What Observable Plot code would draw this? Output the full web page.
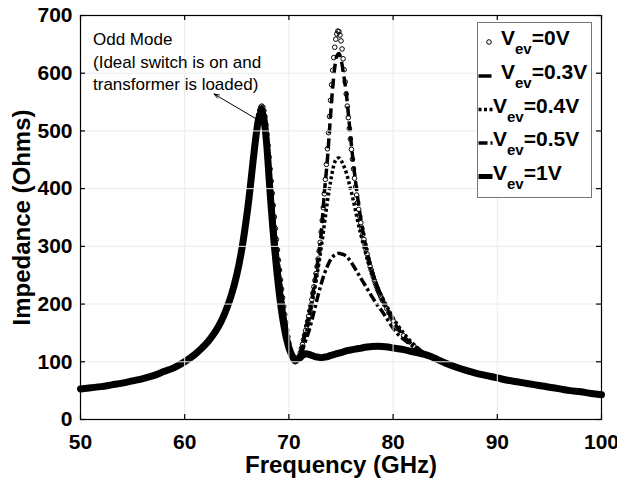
<!DOCTYPE html>
<html><head><meta charset="utf-8">
<script src="https://cdn.jsdelivr.net/npm/d3@7"></script>
<script src="https://cdn.jsdelivr.net/npm/@observablehq/plot@0.6"></script>
<style>
html,body{margin:0;padding:0;background:#fff;}
#chart{width:617px;height:486px;}
</style></head><body><div id="chart"></div>
<script>
// ---------- DATA ----------
const xTicks = [50, 60, 70, 80, 90, 100];
const yTicks = [0, 100, 200, 300, 400, 500, 600, 700];
const seriesNames = ["0V", "0.3V", "0.4V", "0.5V", "1V"];

// part shared by every curve (left tail, 50 -> 66.6 GHz)
const freqLeft = [50,51,52,53,54,55,56,57,58,59,60,61,62,62.5,63,63.5,64,64.5,65,65.5,66,66.3,66.6];
const zLeft    = [53,55,57,60,63,67,71,76,83,90,100,113,130,141,154,170,191,217,251,297,359,404,454];

// part shared by every curve (right tail, 84 -> 100 GHz)
const freqRight = [84,85,86,87,88,89,90,91,92,93,94,95,96,97,98,99,100];
const zRight    = [106,98,91,85,80,76,72,68,65,62,59,56,53,50,48,45,43];

// Vev = 0V (circles), resonance region
const freqMid0 = [66.8,66.9,67.0,67.1,67.2,67.3,67.4,67.5,67.6,67.7,67.8,67.9,68.0,68.1,68.2,68.3,68.4,68.5,68.6,68.7,68.8,68.9,69.0,69.1,69.2,69.3,69.4,69.5,69.6,69.7,69.8,69.9,70.0,
  70.1,70.2,70.3,70.4,70.5,70.6,70.7,70.8,70.9,71.0,
  71.1,71.2,71.3,71.4,71.5,71.6,71.7,71.8,71.9,72.0,
  72.1,72.2,72.3,72.4,72.5,72.6,72.7,72.8,72.9,73.0,
  73.1,73.2,73.3,73.4,73.5,73.6,73.7,73.8,73.9,74.0,
  74.1,74.2,74.3,74.4,74.5,74.6,74.7,74.8,74.9,75.0,
  75.1,75.2,75.3,75.4,75.5,75.6,75.7,75.8,75.9,76.0,
  76.1,76.2,76.3,76.4,76.5,76.6,76.7,76.8,76.9,77.0,
  77.1,77.2,77.3,77.4,77.5,77.6,77.7,77.8,77.9,78.0,
  78.1,78.2,78.3,78.4,78.5,78.6,78.7,78.8,78.9,79.0,
  79.2,79.4,79.6,79.8,80.0,80.5,81.0,81.5,82.0,82.5,83.0,83.5];
const zMid0 = [488,503,517,528,536,541,543,541,535,525,511,494,475,455,434,413,392,371,351,331,312,294,276,259,242,226,211,196,182,168,155,143,132,
  122,114,108,104,101,100,101,103,106,110,
  116,123,130,138,146,154,162,170,179,188,
  198,208,219,230,241,253,265,278,292,307,
  325,345,367,391,416,442,469,497,525,553,
  580,605,627,645,659,668,673,672,666,656,
  642,625,606,585,564,543,523,504,486,468,
  451,434,418,403,389,376,364,352,341,331,
  321,312,303,295,287,279,272,265,259,253,
  247,241,236,231,226,222,218,214,210,206,
  199,192,185,178,171,157,145,135,127,120,114,110];

// line series, resonance region (shared frequency grid)
const freqMid = [66.9,67.1,67.3,67.5,67.7,67.9,68.1,68.3,68.6,68.9,69.2,69.5,69.8,70.1,70.4,70.7,
  71.0,71.3,71.6,71.9,72.2,72.5,72.8,73.1,73.4,73.7,74.0,74.2,74.4,74.6,74.8,75.0,75.2,75.5,75.8,
  76.1,76.4,76.7,77.0,77.5,78.0,78.5,79.0,79.5,80.0,80.5,81.0,81.5,82.0,82.5,83.0,83.5];
const zMid03 = [502,527,539,539,521,488,445,400,338,284,234,190,152,123,106,102,
  110,130,154,179,208,241,278,323,392,452,528,575,610,630,634,624,604,566,512,
  458,412,371,336,290,255,228,207,188,171,157,145,135,127,120,114,110];
const zMid04 = [502,527,539,539,521,488,445,400,338,284,234,190,152,123,106,102,
  108,124,144,170,200,230,262,298,338,378,412,432,446,452,453,449,442,428,408,
  386,361,336,313,280,252,230,210,192,176,162,150,139,130,122,115,110];
const zMid05 = [502,527,539,539,521,488,445,400,338,284,234,190,152,123,106,102,
  108,120,136,152,172,193,215,235,252,266,277,282,285,287,288,287,286,283,277,
  269,260,251,242,227,212,198,186,172,158,147,139,132,126,120,114,110];
const zMid1 = [499,521,531,528,507,470,418,368,302,247,201,165,138,119,108,104,
  106,111,114,113,111,109,108,107,108,109,111,112,113,114,115,116,117,119,120,
  121,122,123,124,125.5,126.5,127,126.5,125.5,124,122.5,121,119,117,115,113,110];

// annotation
const annoText = ["Odd Mode\n(Ideal switch is on and\ntransformer is loaded)"];
const annoX = [51.2];
const annoY = [676];
const arrowFrom = [66.85, 521];
const arrowTo = [62.82, 564];

const xLabel = "Frequency (GHz)";
const yLabel = "Impedance (Ohms)";
const legendSub = "ev";

// ---------- build tables ----------
function build(name, fMid, zMid) {
  const f = [...freqLeft, ...fMid, ...freqRight];
  const z = [...zLeft, ...zMid, ...zRight];
  return f.map((x, i) => ({series: name, f: x, z: z[i]}));
}
const d0  = build(seriesNames[0], freqMid0, zMid0);
const d03 = build(seriesNames[1], freqMid, zMid03);
const d04 = build(seriesNames[2], freqMid, zMid04);
const d05 = build(seriesNames[3], freqMid, zMid05);
const d1  = build(seriesNames[4], freqMid, zMid1);

// ---------- layout ----------
const W = 617, H = 486, mL = 80, mR = 16, mT = 15, mB = 67;
const plotW = W - mL - mR, plotH = H - mT - mB;
const FONT = "'Liberation Sans', Arial, Helvetica, sans-serif";
const styles = {
  "0.3V": {w: 3.5, dash: "10,5"},
  "0.4V": {w: 3.5, dash: "3,2.5"},
  "0.5V": {w: 3.5, dash: "9,3,3,3"},
  "1V":   {w: 7,   dash: null}
};

const lineMark = (data, name) => Plot.line(data, {
  x: "f", y: "z", stroke: "black", strokeWidth: styles[name].w,
  strokeDasharray: styles[name].dash || undefined,
  strokeLinecap: styles[name].dash ? "butt" : "round",
  strokeLinejoin: "round", curve: "catmull-rom"
});

const svg = Plot.plot({
  width: W, height: H,
  marginLeft: mL, marginRight: mR, marginTop: mT, marginBottom: mB,
  x: {domain: [50, 100], ticks: xTicks},
  y: {domain: [0, 700], ticks: yTicks},
  style: {fontFamily: FONT, background: "white", color: "black"},
  marks: [
    Plot.dot(d0, {x: "f", y: "z", r: 2.3, stroke: "black", strokeWidth: 1, fill: "none"}),
    lineMark(d03, "0.3V"),
    lineMark(d04, "0.4V"),
    lineMark(d05, "0.5V"),
    lineMark(d1, "1V"),
    Plot.gridX(xTicks, {stroke: "#ebebeb", strokeOpacity: 1, strokeWidth: 1}),
    Plot.gridY(yTicks, {stroke: "#ebebeb", strokeOpacity: 1, strokeWidth: 1}),
    Plot.frame({stroke: "black", strokeWidth: 1.2}),
    Plot.ruleX(xTicks, {stroke: "black", strokeWidth: 1.2, insetTop: plotH - 5}),
    Plot.ruleX(xTicks, {stroke: "black", strokeWidth: 1.2, insetBottom: plotH - 5}),
    Plot.ruleY(yTicks, {stroke: "black", strokeWidth: 1.2, insetRight: plotW - 5}),
    Plot.ruleY(yTicks, {stroke: "black", strokeWidth: 1.2, insetLeft: plotW - 5}),
    Plot.axisX(xTicks, {tickSize: 0, tickPadding: 15, fontSize: 21, fontWeight: "bold", label: null}),
    Plot.axisY(yTicks, {tickSize: 0, tickPadding: 8, fontSize: 21, fontWeight: "bold", label: null}),
    Plot.text([xLabel], {frameAnchor: "bottom", dy: 46, fontSize: 24, fontWeight: "bold", textAnchor: "middle", lineAnchor: "middle", text: d => d}),
    Plot.text([yLabel], {frameAnchor: "left", dx: -58, rotate: -90, fontSize: 24, fontWeight: "bold", textAnchor: "middle", lineAnchor: "middle", text: d => d}),
    Plot.text(annoText, {x: annoX, y: annoY, text: d => d, textAnchor: "start", lineAnchor: "top", lineHeight: 1.32, fontSize: 17}),
    Plot.arrow([0], {x1: [arrowFrom[0]], y1: [arrowFrom[1]], x2: [arrowTo[0]], y2: [arrowTo[1]], stroke: "black", strokeWidth: 1, headLength: 8, headAngle: 40, bend: 0})
  ]
});
document.getElementById("chart").appendChild(svg);

// ---------- legend (inside the axes, top right) ----------
const lg = d3.select(svg).append("g").attr("font-family", FONT).attr("text-anchor", "start");
lg.append("rect").attr("x", 477.5).attr("y", 22.5).attr("width", 114).attr("height", 175)
  .attr("fill", "white").attr("stroke", "#777").attr("stroke-width", 1);
const baselines = [45, 79, 112.5, 146, 179.5];
const textX = [501, 501, 493, 493, 493];
seriesNames.forEach((name, i) => {
  const yb = baselines[i];
  const ys = yb - 3;
  if (i === 0) {
    lg.append("circle").attr("cx", 489).attr("cy", ys).attr("r", 2.3)
      .attr("fill", "none").attr("stroke", "black").attr("stroke-width", 1);
  } else {
    const st = styles[name];
    const x1 = 478.5, x2 = i === 1 ? 491.5 : 492.5;
    const ln = lg.append("line").attr("x1", x1).attr("x2", x2).attr("y1", ys).attr("y2", ys)
      .attr("stroke", "black").attr("stroke-width", st.w > 5 ? 5 : 3.5).attr("stroke-linecap", "butt");
    if (st.dash && i !== 1) ln.attr("stroke-dasharray", st.dash);
  }
  const t = lg.append("text").attr("x", textX[i]).attr("y", yb).attr("text-anchor", "start")
    .attr("font-size", 21).attr("font-weight", "bold").attr("fill", "black");
  t.append("tspan").text("V");
  t.append("tspan").attr("dy", 9).attr("font-size", 15).text(legendSub);
  t.append("tspan").attr("dy", -9).text("=" + name);
});
</script>
</body></html>
